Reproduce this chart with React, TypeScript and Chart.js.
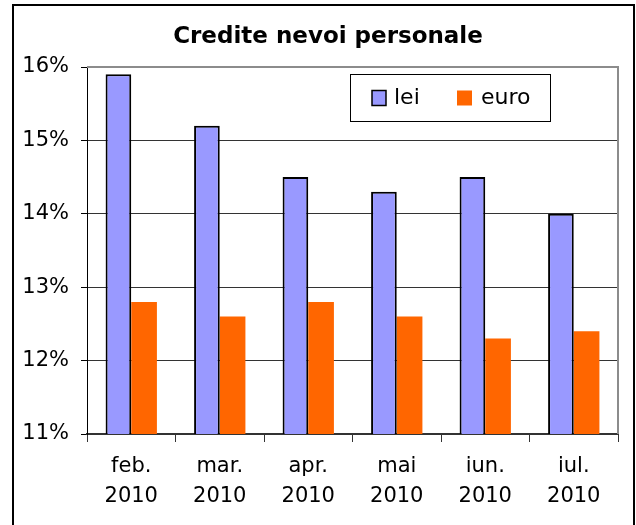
import React, { useEffect, useRef } from "react";
import { Chart, registerables } from "chart.js";

Chart.register(...registerables);

const categories: string[][] = [
  ["feb.", "2010"],
  ["mar.", "2010"],
  ["apr.", "2010"],
  ["mai", "2010"],
  ["iun.", "2010"],
  ["iul.", "2010"],
];
const leiValues = [15.9, 15.2, 14.5, 14.3, 14.5, 14.0];
const euroValues = [12.8, 12.6, 12.8, 12.6, 12.3, 12.4];
const seriesNames = ["lei", "euro"];
const titleText = "Credite nevoi personale";
const yMin = 11;
const yMax = 16;

const FONT = "'DejaVu Sans', Verdana, sans-serif";
const LEI_COLOR = "#9999FF";
const EURO_COLOR = "#FF6600";

const framePlugin = {
  id: "frame",
  beforeDraw(chart: any) {
    const ctx = chart.ctx;
    ctx.save();
    ctx.fillStyle = "#ffffff";
    ctx.fillRect(0, 0, chart.width, chart.height);
    ctx.strokeStyle = "#000000";
    ctx.lineWidth = 2;
    ctx.beginPath();
    ctx.moveTo(13, chart.height + 5);
    ctx.lineTo(13, 5);
    ctx.lineTo(634, 5);
    ctx.lineTo(634, chart.height + 5);
    ctx.stroke();

    // title
    ctx.fillStyle = "#000";
    ctx.font = `bold 23px ${FONT}`;
    ctx.textAlign = "center";
    ctx.textBaseline = "middle";
    ctx.fillText(titleText, 328, 37);
    ctx.restore();
  },
  afterDraw(chart: any) {
    const ctx = chart.ctx;
    const a = chart.chartArea;
    ctx.save();
    // gray plot border top & right
    ctx.strokeStyle = "#8c8c8c";
    ctx.lineWidth = 2;
    ctx.beginPath();
    ctx.moveTo(a.left, a.top);
    ctx.lineTo(a.right, a.top);
    ctx.lineTo(a.right, a.bottom);
    ctx.stroke();

    // legend box
    const bx = a.right - 268;
    const by = a.top + 7;
    const bw = 200;
    const bh = 47;
    ctx.fillStyle = "#ffffff";
    ctx.fillRect(bx, by, bw, bh);
    ctx.strokeStyle = "#000000";
    ctx.lineWidth = 1;
    ctx.strokeRect(bx + 0.5, by + 0.5, bw, bh);

    const cy = by + bh / 2 + 1;
    ctx.font = `22px ${FONT}`;
    ctx.textBaseline = "middle";
    ctx.textAlign = "left";
    // lei swatch
    ctx.fillStyle = LEI_COLOR;
    ctx.fillRect(bx + 22, cy - 8, 14, 15);
    ctx.strokeStyle = "#000";
    ctx.lineWidth = 1.5;
    ctx.strokeRect(bx + 22, cy - 8, 14, 15);
    ctx.fillStyle = "#000";
    ctx.fillText(seriesNames[0], bx + 44, cy);
    // euro swatch
    ctx.fillStyle = EURO_COLOR;
    ctx.fillRect(bx + 107, cy - 8, 15, 15);
    ctx.fillStyle = "#000";
    ctx.fillText(seriesNames[1], bx + 131, cy);
    ctx.restore();
  },
};

export default function App() {
  const ref = useRef<HTMLCanvasElement>(null);

  useEffect(() => {
    document.body.style.margin = "0";
    const chart = new Chart(ref.current as HTMLCanvasElement, {
      type: "bar",
      data: {
        labels: categories,
        datasets: [
          {
            label: seriesNames[0],
            data: leiValues,
            backgroundColor: LEI_COLOR,
            borderColor: "#000000",
            borderWidth: 2,
            categoryPercentage: 0.58,
            barPercentage: 1,
          },
          {
            label: seriesNames[1],
            data: euroValues,
            backgroundColor: EURO_COLOR,
            borderWidth: 0,
            categoryPercentage: 0.58,
            barPercentage: 1,
          },
        ],
      },
      options: {
        responsive: false,
        animation: false,
        devicePixelRatio: 1,
        layout: { padding: { left: 0, right: 18, top: 67, bottom: 0 } },
        plugins: {
          legend: { display: false },
          tooltip: { enabled: false },
          title: { display: false },
        },
        scales: {
          x: {
            grid: {
              offset: true,
              drawOnChartArea: false,
              drawTicks: true,
              tickLength: 8,
              tickColor: "#333",
            },
            border: { display: true, color: "#333", width: 2 },
            ticks: {
              color: "#000",
              font: { family: FONT, size: 21, lineHeight: 1.4 },
              padding: 10,
              maxRotation: 0,
              autoSkip: false,
            },
            afterFit(scale: any) {
              scale.height = 91;
            },
          },
          y: {
            min: yMin,
            max: yMax,
            ticks: {
              stepSize: 1,
              color: "#000",
              font: { family: FONT, size: 21 },
              padding: 12,
              callback: (v: any) => `${v}%`,
            },
            grid: {
              color: "#333",
              lineWidth: 1,
              drawTicks: true,
              tickLength: 6,
              tickColor: "#000",
            },
            border: { display: true, color: "#000", width: 1 },
            afterFit(scale: any) {
              scale.width = 87;
            },
          },
        },
      },
      plugins: [framePlugin],
    });
    return () => chart.destroy();
  }, []);

  return (
    <div style={{ position: "absolute", left: 0, top: 0, width: 636, height: 525 }}>
      <canvas ref={ref} width={636} height={525} style={{ display: "block" }} />
    </div>
  );
}
